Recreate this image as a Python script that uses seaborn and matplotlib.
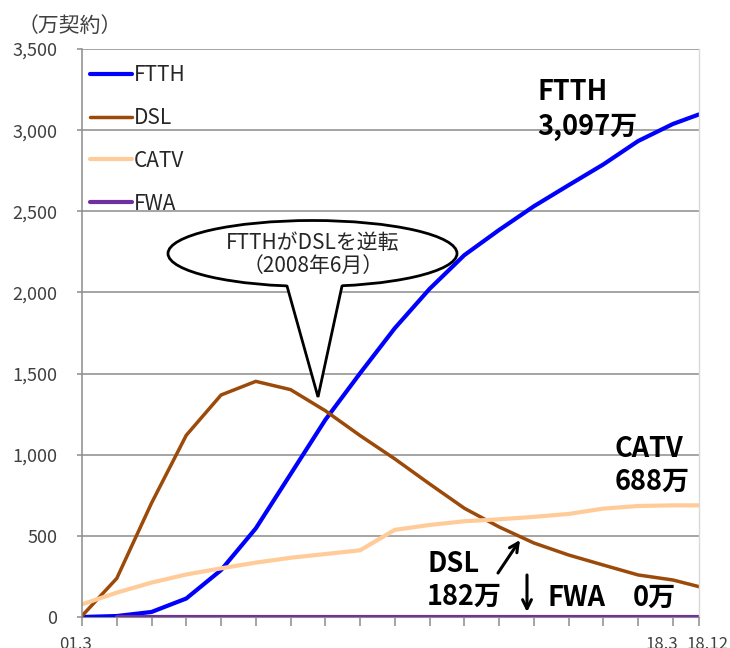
import numpy as np
import pandas as pd
import matplotlib.pyplot as plt
import matplotlib.transforms as mtransforms
import seaborn as sns
from matplotlib.patches import Ellipse, Polygon
from matplotlib.lines import Line2D

# ---- data (万契約), fiscal year ends ----
periods = ['01.3', '02.3', '03.3', '04.3', '05.3', '06.3', '07.3', '08.3', '09.3', '10.3',
           '11.3', '12.3', '13.3', '14.3', '15.3', '16.3', '17.3', '18.3', '18.12']
ftth = [0, 6, 31, 114, 289, 546, 880, 1215, 1502, 1780, 2022, 2230, 2385, 2531, 2661, 2789, 2933, 3038, 3097]
dsl = [7, 238, 702, 1120, 1368, 1452, 1401, 1271, 1118, 974, 820, 670, 555, 456, 382, 320, 259, 228, 187]
catv = [78, 150, 212, 262, 300, 335, 365, 388, 411, 537, 567, 590, 602, 617, 635, 668, 684, 688, 688]
fwa = [np.nan, 0, 0, 0, 0, 0, 0, 0, 0, 0, 0, 0, 0, 0, 0, 0, 0, 0, 0]
series_names = ['FTTH', 'DSL', 'CATV', 'FWA']
shown_labels = {'01.3': -7, '18.3': -11, '18.12': 9}   # label -> horizontal nudge (px)

colors = {'FTTH': '#0000FF', 'DSL': '#9C4A0A', 'CATV': '#FFCC99', 'FWA': '#7030A0'}
widths = {'FTTH': 3.0, 'DSL': 2.5, 'CATV': 3.0, 'FWA': 3.0}


def period_pos(p):
    yy, mm = p.split('.')
    return int(yy) - 1 + (int(mm) - 3) / 12


x_pos = [period_pos(p) for p in periods]
df = pd.DataFrame({'x': x_pos * 4,
                   'value': ftth + dsl + catv + fwa,
                   'series': np.repeat(series_names, len(periods))})

sns.set_style('white')
plt.rcParams['font.family'] = ['Noto Sans CJK JP', 'DejaVu Sans']
txt_gray = '#404040'
grid_gray = '#8C8C8C'

fig = plt.figure(figsize=(7.3, 6.48), dpi=100)
ax = fig.add_axes([82 / 730, 1 - 617 / 648, 617 / 730, 568 / 648])

for name in series_names:
    sns.lineplot(data=df[df['series'] == name], x='x', y='value', color=colors[name],
                 lw=widths[name], label=name, ax=ax, solid_joinstyle='miter')

ax.set_xlim(0, x_pos[-1])
ax.set_ylim(0, 3500)
ax.set_yticks(np.arange(0, 3501, 500))
ax.set_yticklabels([f'{v:,}' for v in range(0, 3501, 500)])
ax.set_xticks(x_pos)
ax.set_xticklabels([p if p in shown_labels else '' for p in periods])
ax.set_xlabel('')
ax.set_ylabel('')

ax.yaxis.grid(True, color=grid_gray, lw=1.1)
ax.set_axisbelow(True)
ax.spines['top'].set_visible(False)
ax.spines['left'].set_color(grid_gray)
ax.spines['left'].set_linewidth(1.1)
ax.spines['bottom'].set_color(grid_gray)
ax.spines['right'].set_color('#D9D9D9')
ax.spines['right'].set_linewidth(1.0)

ax.tick_params(axis='y', direction='out', length=3.6, width=1.1, color=grid_gray,
               pad=14, labelsize=13, labelcolor=txt_gray, left=True)
ax.tick_params(axis='x', direction='out', length=6.5, width=1.1, color=grid_gray,
               pad=7, labelsize=12, labelcolor=txt_gray, bottom=True)

# nudge the few x labels like the original
for lab in ax.get_xticklabels():
    dx = shown_labels.get(lab.get_text(), 0)
    if dx:
        lab.set_transform(lab.get_transform() + mtransforms.ScaledTranslation(dx / 100, 0, fig.dpi_scale_trans))

handles, labels = ax.get_legend_handles_labels()
ax.legend(handles, labels, loc='upper left', bbox_to_anchor=(90 / 730, 1 - 64 / 648),
          bbox_transform=fig.transFigure, frameon=False, fontsize=15,
          handlelength=2.0, handletextpad=0.12, labelspacing=1.0,
          borderpad=0, borderaxespad=0)

fig.text(18 / 730, 1 - 26 / 648, '（万契約）', fontsize=15, color=txt_gray, va='center', ha='left')

# ---- callouts (figure pixels, origin bottom-left) ----
H = 648
big = dict(fontsize=19.5, fontweight='bold', color='black', xycoords='figure pixels',
           ha='left', va='baseline')
ax.annotate('FTTH', (537, H - 100), **big)
ax.annotate('3,097万', (537, H - 135), **big)
ax.annotate('CATV', (615, H - 457), **big)
ax.annotate('688万', (615, H - 490), **big)
ax.annotate('DSL', (427, H - 572), **big)
ax.annotate('182万', (427, H - 605), **big)
ax.annotate('FWA', (547, H - 606), **big)
ax.annotate('0万', (633, H - 606), **big)

arrow = dict(arrowstyle='->', color='black', lw=2.2, mutation_scale=16, shrinkA=0, shrinkB=0)
ax.annotate('', xy=(520, H - 540), xytext=(498, H - 573), xycoords='figure pixels',
            textcoords='figure pixels', arrowprops=arrow)
ax.annotate('', xy=(527, H - 612), xytext=(527, H - 575), xycoords='figure pixels',
            textcoords='figure pixels', arrowprops=arrow)

# ---- speech bubble ----
def fp(x, y):
    return (x / 730, 1 - y / 648)

ell = Ellipse(fp(312.5, 253.5), 289 / 730, 66 / 648, transform=fig.transFigure,
              facecolor='white', edgecolor='black', lw=2, zorder=5)
fig.add_artist(ell)
tail = Polygon([fp(284.8, 278), fp(318, 397), fp(343.7, 278)], closed=True,
               transform=fig.transFigure, facecolor='white', edgecolor='none', zorder=6)
fig.add_artist(tail)
tx, ty = zip(fp(287, 286), fp(318, 397), fp(342, 286))
fig.add_artist(Line2D(tx, ty, transform=fig.transFigure, color='black', lw=2,
                      solid_joinstyle='miter', zorder=7))
fig.text(313 / 730, 1 - 243 / 648, 'FTTHがDSLを逆転', fontsize=15, ha='center', va='center', zorder=8)
fig.text(313 / 730, 1 - 266 / 648, '（2008年6月）', fontsize=15, ha='center', va='center', zorder=8)

fig.savefig('out.png', dpi=100)
